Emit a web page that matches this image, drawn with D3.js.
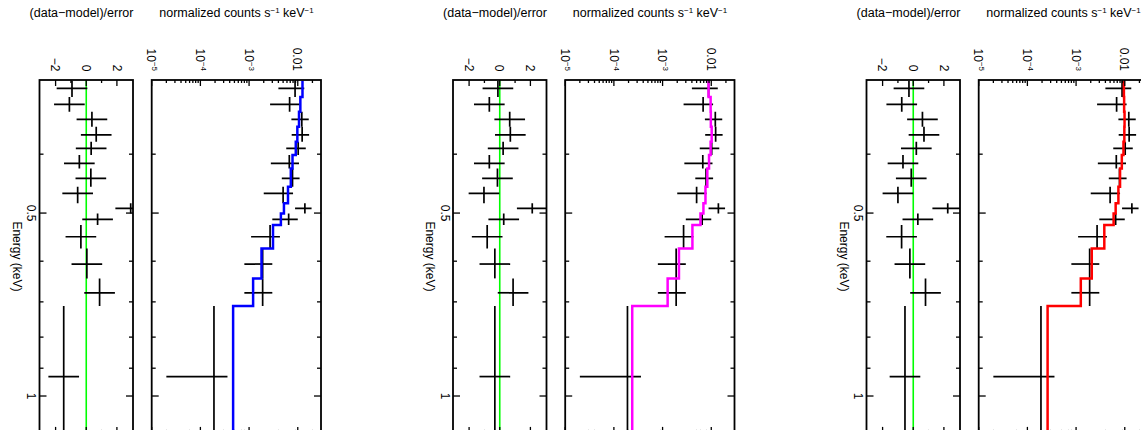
<!DOCTYPE html>
<html><head><meta charset="utf-8">
<script src="https://cdn.jsdelivr.net/npm/d3@7"></script>
<style>
body{margin:0;background:#fff}
svg{display:block}
text{font-family:"Liberation Sans",Arial,Helvetica,sans-serif;fill:#000}
</style>
</head><body>
<svg id="chart" width="1141" height="430"></svg>
<script>
// ---- data (energy bins shared by the three fits) ----
const energyEdges = [0.303, 0.322, 0.3407, 0.3606, 0.3817, 0.4014, 0.4222, 0.4526, 0.4819, 0.5006, 0.5233, 0.5716, 0.6404, 0.7111, 1.213];
const energyCenters = [0.3118, 0.3312, 0.3506, 0.3719, 0.3913, 0.4142, 0.4385, 0.4641, 0.4911, 0.5121, 0.5469, 0.6065, 0.6763, 0.929];
const counts = [0.0088, 0.0068, 0.0121, 0.0123, 0.0102, 0.0067, 0.0078, 0.0050, 0.0140, 0.0065, 0.0027, 0.0019, 0.0019, 0.00019];
const countErrors = [0.0048, 0.0041, 0.0047, 0.0048, 0.0044, 0.0039, 0.0031, 0.0030, 0.0052, 0.0035, 0.0016, 0.0011, 0.0011, 0.00017];

const modelBlue = [0.0125, 0.0113, 0.0106, 0.0098, 0.0091, 0.0078, 0.0072, 0.0063, 0.0052, 0.0045, 0.0031, 0.0018, 0.00121, 0.00047];
const modelMagenta = [0.0088, 0.0097, 0.0098, 0.0102, 0.0097, 0.0090, 0.0083, 0.0076, 0.0069, 0.0060, 0.0041, 0.00217, 0.00127, 0.000238];
const modelRed = [0.0096, 0.0097, 0.0099, 0.0098, 0.0094, 0.0087, 0.0080, 0.0074, 0.0065, 0.0059, 0.0038, 0.0021, 0.00125, 0.00026];

const residualsBlue = [-0.93, -1.10, 0.37, 0.65, 0.32, -0.45, 0.30, -0.56, 2.9, 0.74, -0.35, 0.04, 0.87, -1.47];
const residualsMagenta = [-0.12, -0.68, 0.65, 0.69, 0.22, -0.68, -0.15, -1.03, 2.12, 0.26, -0.82, -0.32, 0.87, -0.32];
const residualsRed = [-0.28, -0.75, 0.60, 0.70, 0.20, -0.67, -0.13, -1.00, 2.25, 0.30, -0.76, -0.22, 0.80, -0.54];

const panelModels = [modelBlue, modelMagenta, modelRed];
const panelResiduals = [residualsBlue, residualsMagenta, residualsRed];
const panelColors = ["#0000ff", "#ff00ff", "#ff0000"];
const panelOffsets = [0, 413.5, 827];

const energyMajorTicks = [0.5, 1];
const energyMinorTicks = [0.4, 0.6, 0.7, 0.8, 0.9];
const energyTickLabels = ["0.5", "1"];
const residualMajorTicks = [-2, 0, 2];
const residualMinorTicks = [-1, 1];
const residualTickLabels = ["\u22122", "0", "2"];
const countMajorTicks = [1e-5, 1e-4, 1e-3, 1e-2];
const countTickBase = ["10", "10", "10", "0.01"];
const countTickExp = ["\u22125", "\u22124", "\u22123", ""];
const residualTitle = "(data\u2212model)/error";
const energyTitle = "Energy (keV)";

// ---- scales ----
const yE = d3.scaleLog().domain([0.302, 1.15]).range([80, 432.9]);
const xR = d3.scaleLinear().domain([-3.05, 3.05]).range([39.5, 133]);
const xC = d3.scaleLog().domain([1e-5, 0.03]).range([151.7, 321]);

const svg = d3.select("#chart");
const defs = svg.append("defs");
const yTop = yE.range()[0], yBot = yE.range()[1];

function countMinorTicks() {
  const out = [];
  for (let e = -5; e <= -2; e++) for (let m = 2; m <= 9; m++) {
    const v = m * Math.pow(10, e);
    if (v < xC.domain()[1]) out.push(v);
  }
  return out;
}

function frameTicks(g, x0, x1, xTicksMajor, xTicksMinor, xs) {
  const tk = g.append("g").attr("stroke", "#000").attr("stroke-width", 1.3);
  energyMajorTicks.forEach(e => {
    tk.append("line").attr("x1", x0).attr("x2", x0 + 7).attr("y1", yE(e)).attr("y2", yE(e));
    tk.append("line").attr("x1", x1).attr("x2", x1 - 7).attr("y1", yE(e)).attr("y2", yE(e));
  });
  energyMinorTicks.forEach(e => {
    tk.append("line").attr("x1", x0).attr("x2", x0 + 4).attr("y1", yE(e)).attr("y2", yE(e));
    tk.append("line").attr("x1", x1).attr("x2", x1 - 4).attr("y1", yE(e)).attr("y2", yE(e));
  });
  xTicksMajor.forEach(v => {
    tk.append("line").attr("x1", xs(v)).attr("x2", xs(v)).attr("y1", yTop).attr("y2", yTop + 6);
    tk.append("line").attr("x1", xs(v)).attr("x2", xs(v)).attr("y1", yBot).attr("y2", yBot - 6);
  });
  xTicksMinor.forEach(v => {
    tk.append("line").attr("x1", xs(v)).attr("x2", xs(v)).attr("y1", yTop).attr("y2", yTop + 3);
    tk.append("line").attr("x1", xs(v)).attr("x2", xs(v)).attr("y1", yBot).attr("y2", yBot - 3);
  });
  g.append("rect").attr("x", x0).attr("y", yTop).attr("width", x1 - x0).attr("height", yBot - yTop)
    .attr("fill", "none").attr("stroke", "#000").attr("stroke-width", 1.8);
}

panelOffsets.forEach((off, p) => {
  const g = svg.append("g").attr("transform", `translate(${off},0)`);
  const model = panelModels[p], res = panelResiduals[p], col = panelColors[p];

  defs.append("clipPath").attr("id", "cr" + p).append("rect")
    .attr("x", xR.range()[0]).attr("y", yTop).attr("width", xR.range()[1] - xR.range()[0]).attr("height", yBot - yTop);
  defs.append("clipPath").attr("id", "cc" + p).append("rect")
    .attr("x", xC.range()[0]).attr("y", yTop).attr("width", xC.range()[1] - xC.range()[0]).attr("height", yBot - yTop);

  // titles
  g.append("text").attr("x", 81.5).attr("y", 17).attr("text-anchor", "middle").attr("font-size", 12.5).text(residualTitle);
  const t2 = g.append("text").attr("x", 236.5).attr("y", 17).attr("text-anchor", "middle").attr("font-size", 12.5);
  t2.append("tspan").text("normalized counts s");
  t2.append("tspan").attr("font-size", 8).attr("dy", -4.5).text("\u22121");
  t2.append("tspan").attr("dy", 4.5).text(" keV");
  t2.append("tspan").attr("font-size", 8).attr("dy", -4.5).text("\u22121");

  // energy axis title and labels
  g.append("text").attr("transform", `translate(12.5,${(yTop + yBot) / 2}) rotate(90)`)
    .attr("text-anchor", "middle").attr("font-size", 12).text(energyTitle);
  energyMajorTicks.forEach((e, i) => {
    g.append("text").attr("transform", `translate(27,${yE(e)}) rotate(90)`)
      .attr("text-anchor", "middle").attr("font-size", 12).text(energyTickLabels[i]);
  });

  residualMajorTicks.forEach((v, i) => {
    g.append("text").attr("transform", `translate(${xR(v) - 4.3},71.5) rotate(90)`)
      .attr("text-anchor", "end").attr("font-size", 12).text(residualTickLabels[i]);
  });
  countMajorTicks.forEach((v, i) => {
    const t = g.append("text").attr("transform", `translate(${xC(v) - 4.3},71) rotate(90)`)
      .attr("text-anchor", "end").attr("font-size", 12);
    t.append("tspan").text(countTickBase[i]);
    if (countTickExp[i]) t.append("tspan").attr("font-size", 8).attr("dy", -4.5).text(countTickExp[i]);
  });

  // ---- residual panel ----
  const rg = g.append("g").attr("clip-path", `url(#cr${p})`);
  rg.append("line").attr("x1", xR(0)).attr("x2", xR(0)).attr("y1", yTop).attr("y2", yBot)
    .attr("stroke", "#00ff00").attr("stroke-width", 1.6);
  res.forEach((r, i) => {
    rg.append("line").attr("x1", xR(r)).attr("x2", xR(r))
      .attr("y1", yE(energyEdges[i])).attr("y2", yE(energyEdges[i + 1]))
      .attr("stroke", "#000").attr("stroke-width", 1.7);
    rg.append("line").attr("x1", xR(r - 1)).attr("x2", xR(r + 1))
      .attr("y1", yE(energyCenters[i])).attr("y2", yE(energyCenters[i]))
      .attr("stroke", "#000").attr("stroke-width", 1.7);
  });
  frameTicks(g, xR.range()[0], xR.range()[1], residualMajorTicks, residualMinorTicks, xR);

  // ---- counts panel ----
  const cg = g.append("g").attr("clip-path", `url(#cc${p})`);
  counts.forEach((v, i) => {
    const lo = Math.max(v - countErrors[i], xC.domain()[0]);
    cg.append("line").attr("x1", xC(v)).attr("x2", xC(v))
      .attr("y1", yE(energyEdges[i])).attr("y2", yE(energyEdges[i + 1]))
      .attr("stroke", "#000").attr("stroke-width", 1.7);
    cg.append("line").attr("x1", xC(lo)).attr("x2", xC(v + countErrors[i]))
      .attr("y1", yE(energyCenters[i])).attr("y2", yE(energyCenters[i]))
      .attr("stroke", "#000").attr("stroke-width", 1.7);
  });
  const pts = [];
  model.forEach((m, i) => {
    pts.push([xC(m), yE(energyEdges[i])]);
    pts.push([xC(m), yE(energyEdges[i + 1])]);
  });
  cg.append("path").attr("d", d3.line()(pts)).attr("fill", "none")
    .attr("stroke", col).attr("stroke-width", 2.5);
  frameTicks(g, xC.range()[0], xC.range()[1], countMajorTicks, countMinorTicks(), xC);
});
</script>
</body></html>
